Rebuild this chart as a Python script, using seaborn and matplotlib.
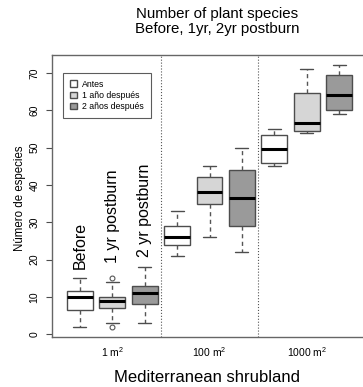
import pandas as pd
import numpy as np
import matplotlib
matplotlib.use('Agg')
import matplotlib.pyplot as plt
import seaborn as sns

sns.set_style('white')
plt.rcParams['font.family'] = ['Liberation Sans', 'DejaVu Sans']
plt.rcParams['mathtext.default'] = 'regular'
plt.rcParams['text.color'] = 'black'
plt.rcParams['xtick.color'] = 'black'
plt.rcParams['ytick.color'] = 'black'

# Valores (resumen de cada caja)
areas = ['1 m$^2$', '100 m$^2$', '1000 m$^2$']
tiempos = ['Antes', '1 año después', '2 años después']
bigote_inf = [2, 3, 3, 21, 26, 22, 45, 54, 59]
q1 = [6.5, 7, 8, 24, 35, 29, 45.8, 54.5, 60]
mediana = [10, 9, 11, 26, 38, 36.5, 49.5, 56.5, 64]
q3 = [11.5, 10, 13, 29, 42, 44, 53.3, 64.5, 69.5]
bigote_sup = [15, 14, 18, 33, 45, 50, 55, 71, 72]
atipicos_inf = [[], [2], [], [], [], [], [], [], []]
atipicos_sup = [[], [15], [], [], [], [], [], [], []]
etiquetas_1m = ['Before', '1 yr postburn', '2 yr postburn']
y_etiquetas = [17.6, 19.2, 20.6]

colores = ['#ffffff', '#d6d6d6', '#9a9a9a']

# Reconstrucción de puntos que reproducen los cuartiles de cada caja
filas = []
for i in range(9):
    vals = (atipicos_inf[i] + [bigote_inf[i], q1[i], q1[i], mediana[i],
            q3[i], q3[i], bigote_sup[i]] + atipicos_sup[i])
    for v in vals:
        filas.append({'area': areas[i // 3], 'tiempo': tiempos[i % 3], 'especies': v})
df = pd.DataFrame(filas)

fig = plt.figure(figsize=(3.63, 3.87), dpi=100)
ax = fig.add_axes([52 / 363, 49.7 / 387, 315 / 363, 282.3 / 387])

borde = '#4d4d4d'
sns.boxplot(data=df, x='area', y='especies', hue='tiempo', order=areas,
            hue_order=tiempos, palette=colores, width=1.0, gap=0.2,
            linecolor=borde, linewidth=1.0, whis=1.5, ax=ax,
            whiskerprops={'linestyle': (0, (3, 2.5)), 'color': '#555555'},
            capprops={'color': borde},
            medianprops={'color': 'black', 'linewidth': 2.2},
            flierprops={'marker': 'o', 'markersize': 3.5, 'markerfacecolor': 'none',
                        'markeredgecolor': '#555555', 'markeredgewidth': 0.8})

ax.axvline(0.5, color='#555555', linestyle=':', linewidth=0.8)
ax.axvline(1.5, color='#555555', linestyle=':', linewidth=0.8)

ax.set_xlim(-0.62, 2.62)
ax.set_ylim(-0.8, 74.8)
ax.set_yticks(range(0, 71, 10))
ax.set_xlabel('')
ax.set_ylabel('')
ax.tick_params(axis='y', length=4, width=0.8, color=borde, labelsize=7.5, pad=5,
               labelrotation=90, left=True)
for t in ax.get_yticklabels():
    t.set_va('center')
ax.tick_params(axis='x', length=0, labelsize=7.5, pad=6)
for s in ax.spines.values():
    s.set_color('#666666')
    s.set_linewidth(1.0)

# Etiquetas verticales sobre las cajas de 1 m2
for j, txt in enumerate(etiquetas_1m):
    ax.text((j - 1) / 3, y_etiquetas[j], txt, rotation=90, ha='center', va='bottom',
            fontsize=11.5)

ax.legend(loc='upper left', bbox_to_anchor=(0.034, 0.937), borderaxespad=0,
          fontsize=6.3, frameon=True, fancybox=False, edgecolor='#333333',
          handlelength=0.8, handleheight=0.8, handletextpad=0.6,
          labelspacing=0.25, borderpad=0.8)
ax.get_legend().get_frame().set_linewidth(0.8)

fig.text(217.5 / 363, 1 - 7 / 387, 'Number of plant species\nBefore, 1yr, 2yr postburn',
         ha='center', va='top', fontsize=10.8, linespacing=1.1)
fig.text(206.5 / 363, 1 - 377 / 387, 'Mediterranean shrubland', ha='center',
         va='center', fontsize=12)
fig.text(20 / 363, 1 - 198 / 387, 'Número de especies', rotation=90, ha='center',
         va='center', fontsize=8.3)

plt.savefig('out.png', dpi=100)
